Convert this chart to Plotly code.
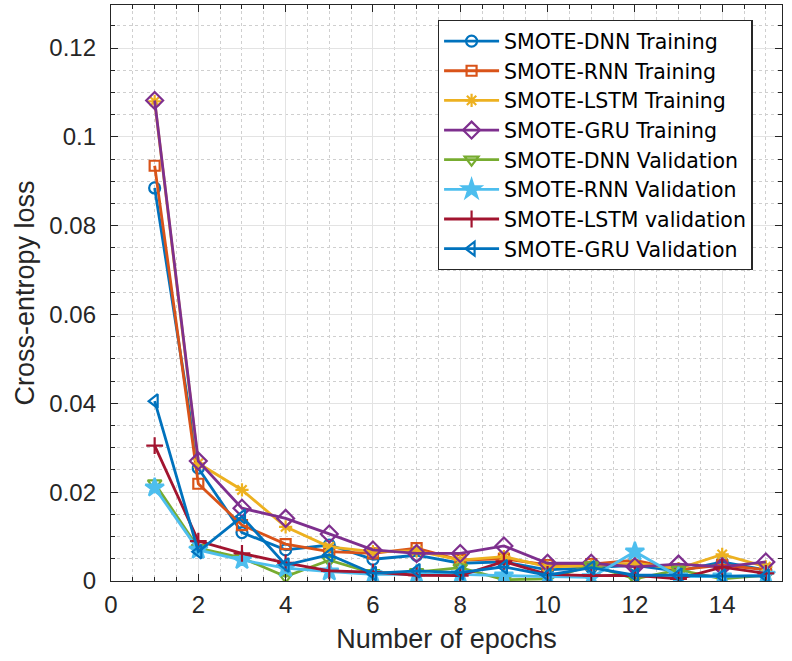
import plotly.graph_objects as go

epochs = list(range(1, 16))

dnn_train = [0.0885, 0.0254, 0.0109, 0.0070, 0.0081, 0.0049, 0.0058, 0.0040, 0.0043, 0.0025, 0.0030, 0.0035, 0.0022, 0.0043, 0.0025]
rnn_train = [0.0935, 0.0219, 0.0126, 0.0083, 0.0066, 0.0062, 0.0074, 0.0047, 0.0050, 0.0036, 0.0038, 0.0047, 0.0025, 0.0036, 0.0025]
lstm_train = [0.1080, 0.0265, 0.0205, 0.0122, 0.0077, 0.0066, 0.0068, 0.0047, 0.0055, 0.0032, 0.0034, 0.0040, 0.0028, 0.0060, 0.0032]
gru_train = [0.1082, 0.0270, 0.0164, 0.0141, 0.0106, 0.0070, 0.0062, 0.0062, 0.0079, 0.0040, 0.0040, 0.0032, 0.0038, 0.0032, 0.0043]
dnn_val = [0.0220, 0.0074, 0.0052, 0.0010, 0.0047, 0.0018, 0.0020, 0.0030, 0.0003, 0.0005, 0.0035, 0.0005, 0.0025, 0.0005, 0.0013]
rnn_val = [0.0210, 0.0070, 0.0047, 0.0029, 0.0021, 0.0015, 0.0015, 0.0015, 0.0012, 0.0010, 0.0008, 0.0066, 0.0010, 0.0010, 0.0014]
lstm_val = [0.0305, 0.0090, 0.0062, 0.0041, 0.0023, 0.0020, 0.0013, 0.0012, 0.0044, 0.0015, 0.0012, 0.0013, 0.0005, 0.0031, 0.0017]
gru_val = [0.0405, 0.0066, 0.0145, 0.0036, 0.0059, 0.0017, 0.0023, 0.0019, 0.0032, 0.0013, 0.0030, 0.0013, 0.0013, 0.0011, 0.0011]

series = [
    ("SMOTE-DNN Training", dnn_train, "#0072BD", "circle-open", 11),
    ("SMOTE-RNN Training", rnn_train, "#D95319", "square-open", 10),
    ("SMOTE-LSTM Training", lstm_train, "#EDB120", "asterisk-open", 11),
    ("SMOTE-GRU Training", gru_train, "#7E2F8E", "diamond-open", 13),
    ("SMOTE-DNN Validation", dnn_val, "#77AC30", "triangle-down-open", 12),
    ("SMOTE-RNN Validation", rnn_val, "#4DBEEE", "star", 14),
    ("SMOTE-LSTM validation", lstm_val, "#A2142F", "cross-thin-open", 12),
    ("SMOTE-GRU Validation", gru_val, "#0072BD", "triangle-left-open", 12),
]

fig = go.Figure()
for name, vals, color, sym, size in series:
    fig.add_trace(go.Scatter(
        x=epochs, y=vals, name=name, mode="lines+markers",
        line=dict(color=color, width=2.8),
        marker=dict(symbol=sym, size=size, color=color, line=dict(color=color, width=2.2)),
    ))

axis_common = dict(
    showline=True, linecolor="#262626", linewidth=1.3, mirror="allticks",
    ticks="inside", ticklen=7, tickcolor="#262626",
    showgrid=True, gridcolor="#e3e3e3", gridwidth=1,
    zeroline=False,
    tickfont=dict(size=24, color="#262626"),
)

fig.update_xaxes(
    range=[0, 15.37], tickmode="array", tickvals=[0, 2, 4, 6, 8, 10, 12, 14],
    ticktext=["0", "2", "4", "6", "8", "10", "12", "14"],
    ticklabelstandoff=2,
    title=dict(text="Number of epochs", font=dict(size=27, color="#262626"), standoff=12),
    minor=dict(dtick=0.5, tick0=0, showgrid=True, gridcolor="#cfcfcf", griddash="dot", ticks="inside", ticklen=4, tickcolor="#262626"),
    **axis_common,
)
fig.update_yaxes(
    range=[0, 0.1297], tickmode="array", tickvals=[0, 0.02, 0.04, 0.06, 0.08, 0.1, 0.12],
    ticktext=["0", "0.02", "0.04", "0.06", "0.08", "0.1", "0.12"],
    ticklabelstandoff=9,
    title=dict(text="Cross-entropy loss", font=dict(size=27, color="#262626"), standoff=6),
    minor=dict(dtick=0.005, tick0=0, showgrid=True, gridcolor="#cfcfcf", griddash="dot", ticks="inside", ticklen=4, tickcolor="#262626"),
    **axis_common,
)

fig.update_layout(
    width=792, height=661,
    margin=dict(l=111, r=10, t=5, b=80),
    paper_bgcolor="white", plot_bgcolor="white",
    font=dict(family="Liberation Sans, Arial, sans-serif", color="#262626"),
    showlegend=True,
    legend=dict(
        x=0.487, y=0.974, xanchor="left", yanchor="top",
        bgcolor="white", bordercolor="#262626", borderwidth=1.3,
        font=dict(size=20.5, color="black", family="DejaVu Sans, sans-serif"),
        itemwidth=55, tracegroupgap=0,
    ),
)

fig.write_html("out.html")
